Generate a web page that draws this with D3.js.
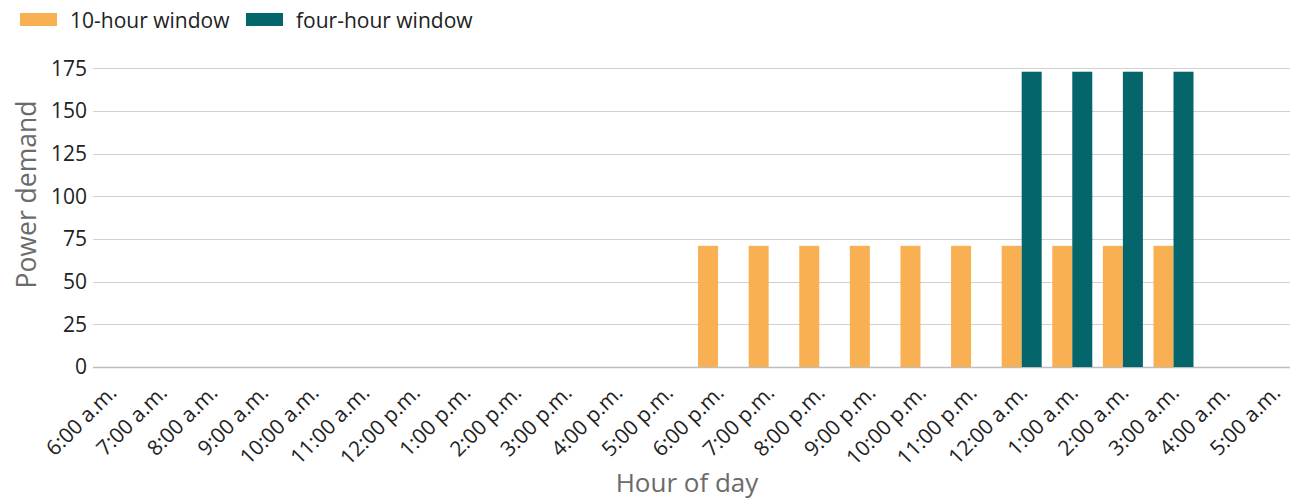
<!DOCTYPE html>
<html>
<head>
<meta charset="utf-8">
<script src="https://cdn.jsdelivr.net/npm/d3@7"></script>
<style>
  html, body { margin: 0; padding: 0; background: #fff; }
  svg { display: block; font-family: "Open Sans", "Noto Sans", sans-serif; }
</style>
</head>
<body>
<svg id="chart" width="1295" height="499"></svg>
<script>
const hours = ["6:00 a.m.","7:00 a.m.","8:00 a.m.","9:00 a.m.","10:00 a.m.","11:00 a.m.","12:00 p.m.","1:00 p.m.","2:00 p.m.","3:00 p.m.","4:00 p.m.","5:00 p.m.","6:00 p.m.","7:00 p.m.","8:00 p.m.","9:00 p.m.","10:00 p.m.","11:00 p.m.","12:00 a.m.","1:00 a.m.","2:00 a.m.","3:00 a.m.","4:00 a.m.","5:00 a.m."];
const tenHour =  [0,0,0,0,0,0,0,0,0,0,0,0,71,71,71,71,71,71,71,71,71,71,0,0];
const fourHour = [0,0,0,0,0,0,0,0,0,0,0,0,0,0,0,0,0,0,173,173,173,173,0,0];
const seriesNames = ["10-hour window","four-hour window"];
const seriesColors = ["#F9B052","#04656A"];
const yTicks = [0,25,50,75,100,125,150,175];

const svg = d3.select("#chart");
const gridLeft = 93, gridRight = 1290;

const x = d3.scaleBand().domain(hours).range([85.5, 1300]).padding(0);
const x1 = d3.scaleBand().domain(seriesNames).range([x.bandwidth()/2 - 20, x.bandwidth()/2 + 20]);
const y = d3.scaleLinear().domain([0,175]).range([367, 68.3]);

// gridlines
svg.append("g").selectAll("line").data(yTicks).join("line")
  .attr("x1", gridLeft).attr("x2", gridRight)
  .attr("y1", d => Math.round(y(d)) + 0.5).attr("y2", d => Math.round(y(d)) + 0.5)
  .attr("stroke", d => d === 0 ? "#bdbdbd" : "#d0d0d0")
  .attr("stroke-width", d => d === 0 ? 1.5 : 1);

// y tick labels
svg.append("g").selectAll("text").data(yTicks).join("text")
  .attr("x", 87).attr("y", d => y(d))
  .attr("dy", "0.35em")
  .attr("text-anchor", "end")
  .attr("font-size", 21)
  .attr("fill", "#222")
  .text(d => d);

// bars
const rows = hours.map((h, i) => ({h, vals: [tenHour[i], fourHour[i]]}));
const groups = svg.append("g").selectAll("g").data(rows).join("g")
  .attr("transform", d => `translate(${x(d.h)},0)`);
groups.selectAll("rect").data(d => d.vals.map((v, k) => ({k, v})).filter(e => e.v > 0)).join("rect")
  .attr("x", e => x1(seriesNames[e.k]))
  .attr("width", x1.bandwidth())
  .attr("y", e => y(e.v))
  .attr("height", e => y(0) - y(e.v))
  .attr("fill", e => seriesColors[e.k]);

// x tick labels
svg.append("g").selectAll("text").data(hours).join("text")
  .attr("transform", d => `translate(${x(d) + x.bandwidth()/2 + 7},394) rotate(-45)`)
  .attr("text-anchor", "end")
  .attr("font-size", 21)
  .attr("fill", "#222")
  .text(d => d);

// axis titles
svg.append("text")
  .attr("x", 687).attr("y", 491.5)
  .attr("text-anchor", "middle")
  .attr("font-size", 26)
  .attr("fill", "#6b6b6b")
  .text("Hour of day");
svg.append("text")
  .attr("transform", "translate(36,194.5) rotate(-90)")
  .attr("text-anchor", "middle")
  .attr("font-size", 26.5)
  .attr("fill", "#6b6b6b")
  .text("Power demand");

// legend
const legendX = [20, 246];
const leg = svg.append("g").selectAll("g").data(seriesNames).join("g")
  .attr("transform", (d, i) => `translate(${legendX[i]},0)`);
leg.append("rect").attr("x", 0).attr("y", 13).attr("width", 37).attr("height", 13)
  .attr("fill", (d, i) => seriesColors[i]);
leg.append("text").attr("x", 50).attr("y", 28).attr("font-size", 21).attr("fill", "#222")
  .text(d => d);
</script>
</body>
</html>
